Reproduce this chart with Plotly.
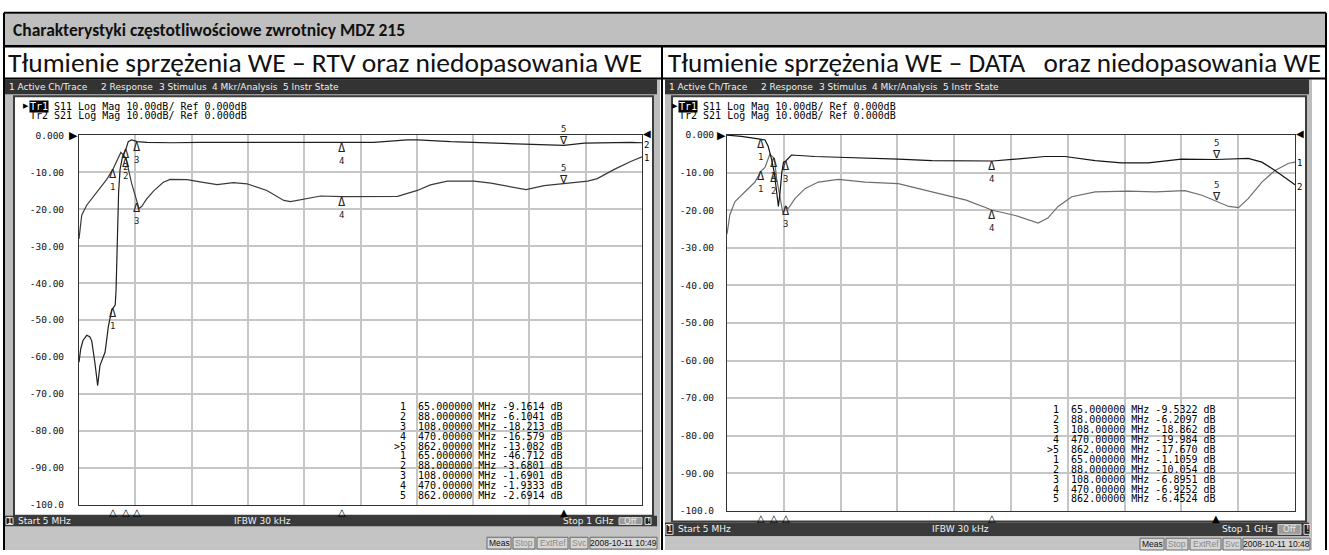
import plotly.graph_objects as go

W, H = 1329, 555

# ------------------------------------------------------------------ data
TITLE = "Charakterystyki częstotliwościowe zwrotnicy MDZ 215"
HEAD_RTV = "Tłumienie sprzężenia WE – RTV oraz niedopasowania WE"
HEAD_DATA = "Tłumienie sprzężenia WE – DATA&nbsp;&nbsp; oraz niedopasowania WE"

MENU_ITEMS = ["1 Active Ch/Trace", "2 Response", "3 Stimulus", "4 Mkr/Analysis", "5 Instr State"]
TRACE_HEAD = ["S11 Log Mag 10.00dB/ Ref 0.000dB", "Tr2 S21 Log Mag 10.00dB/ Ref 0.000dB"]
Y_TICKS = [0, -10, -20, -30, -40, -50, -60, -70, -80, -90, -100]
Y_TICK_TEXT = ["0.000", "-10.00", "-20.00", "-30.00", "-40.00", "-50.00",
               "-60.00", "-70.00", "-80.00", "-90.00", "-100.0"]
F_START, F_STOP = 5, 1000  # MHz

MKR_FREQ = [65, 88, 108, 470, 862]
MKR_LABEL = ["1", "2", "3", "4", ">5", "1", "2", "3", "4", "5"]
MKR_FREQ_TEXT = ["65.000000", "88.000000", "108.00000", "470.00000", "862.00000"]

RTV_S11_MKR = ["-9.1614", "-6.1041", "-18.213", "-16.579", "-13.082"]
RTV_S21_MKR = ["-46.712", "-3.6801", "-1.6901", "-1.9333", "-2.6914"]
DATA_S11_MKR = ["-9.5322", "-6.2097", "-18.862", "-19.984", "-17.670"]
DATA_S21_MKR = ["-1.1059", "-10.054", "-6.8951", "-6.9252", "-6.4524"]

# WE - RTV : S11 (mismatch)
RTV_S11_F = [5, 9.8, 18.6, 36, 54, 65, 74, 79, 88, 98, 108, 111, 116, 124, 137, 154, 166,
             196, 219, 249, 278, 302, 337, 367, 379, 408, 432, 470, 532, 568, 603, 626,
             656, 703, 733, 762, 795, 827, 862, 904, 921, 951, 981, 1000]
RTV_S11_DB = [-28.0, -21.6, -18.9, -15.4, -11.9, -9.16, -6.5, -4.6, -6.1, -13.0, -18.2, -19.8,
              -19.2, -17.3, -15.0, -12.7, -11.9, -12.0, -12.6, -13.3, -12.8, -13.1, -14.9,
              -17.6, -17.9, -17.0, -16.4, -16.6, -16.5, -16.5, -14.9, -13.4, -12.4, -12.4,
              -12.9, -13.8, -14.7, -13.6, -13.1, -12.4, -11.7, -9.2, -7.0, -5.8]
# WE - RTV : S21 (coupling)
RTV_S21_F = [5, 8, 12, 18.6, 24, 27.5, 33, 38, 42, 51, 54, 57, 63, 65, 69, 70.5, 71.5, 72,
             75, 77.6, 82, 88, 92, 98, 108, 125, 170, 219, 300, 380, 449, 470, 526, 585,
             603, 662, 738, 798, 839, 862, 898, 940, 981, 1000]
RTV_S21_DB = [-61.4, -57.8, -55.5, -54.1, -54.5, -55.6, -61.4, -67.7, -62.3, -58.7, -55.2,
              -51.6, -47.2, -46.7, -45.9, -41.9, -36.0, -30.4, -15.4, -9.2, -5.7, -3.7, -1.7,
              -1.2, -1.7, -1.9, -2.0, -1.9, -1.95, -1.9, -1.95, -1.93, -1.9, -1.2, -1.2, -1.7,
              -2.1, -2.3, -2.6, -2.7, -2.1, -1.9, -1.9, -2.0]

# WE - DATA : S11 (mismatch)
DATA_S11_F = [5, 10, 19, 36.5, 54, 65, 71.6, 80, 88, 92, 98, 103, 108, 112, 124, 142, 165,
              200, 247, 305, 364, 424, 470, 492, 510, 550, 567, 585, 609, 650, 708, 755, 807,
              837, 862, 884, 901, 918, 942, 965, 989, 1000]
DATA_S11_DB = [-26.4, -21.2, -17.7, -15.1, -12.5, -9.5, -8.6, -5.1, -6.2, -11.6, -17.0,
               -20.8, -18.9, -19.6, -16.9, -14.2, -12.5, -11.8, -12.5, -12.9, -15.1, -17.3,
               -20.0, -20.8, -21.4, -23.4, -22.1, -19.0, -16.4, -15.1, -14.9, -15.1, -14.8,
               -16.0, -17.7, -19.0, -19.3, -16.9, -12.5, -9.4, -7.5, -7.2]
# WE - DATA : S21 (coupling)
DATA_S21_F = [5, 30, 60, 65, 71.6, 77, 83, 88, 92, 95, 98, 101, 104, 108, 118, 159, 200, 247,
              305, 364, 470, 510, 562, 597, 650, 696, 743, 801, 862, 918, 942, 965, 983, 1000]
DATA_S21_DB = [0.0, -0.35, -1.0, -1.1, -1.3, -2.9, -6.4, -10.1, -15.1, -19.0, -15.1, -9.9,
               -7.2, -6.9, -5.3, -5.7, -5.9, -6.1, -6.4, -6.8, -6.9, -6.4, -5.7, -5.7, -6.8,
               -7.4, -7.4, -6.4, -6.5, -6.2, -7.2, -9.4, -11.4, -13.2]

DATES = ["2008-10-11 10:49", "2008-10-11 10:48"]

# ------------------------------------------------------------------ helpers
MONO = "DejaVu Sans Mono"
UI = "DejaVu Sans"
DOC = "Carlito, Lato"
shapes, ann = [], []


def rect(x0, y0, x1, y1, fill=None, line=None, lw=0, layer="below"):
    shapes.append(dict(type="rect", xref="paper", yref="paper",
                       x0=x0 / W, x1=x1 / W, y0=1 - y1 / H, y1=1 - y0 / H,
                       fillcolor=fill or "rgba(0,0,0,0)",
                       line=dict(color=line or "rgba(0,0,0,0)", width=lw), layer=layer))


def seg(x0, y0, x1, y1, color="#000", lw=1, layer="above"):
    shapes.append(dict(type="line", xref="paper", yref="paper",
                       x0=x0 / W, x1=x1 / W, y0=1 - y0 / H, y1=1 - y1 / H,
                       line=dict(color=color, width=lw), layer=layer))


def txt(x, y, s, size=10, color="#000", family=MONO, xa="left", ya="middle", bg=None):
    d = dict(xref="paper", yref="paper", x=x / W, y=1 - y / H, text=s, showarrow=False,
             xanchor=xa, yanchor=ya, font=dict(size=size, color=color, family=family),
             borderpad=0)
    if bg:
        d["bgcolor"] = bg
    ann.append(d)


# ------------------------------------------------------------------ page table
rect(5, 8, 1325, 41, fill="#bfbfbf")
txt(12, 24.5, "<b>" + TITLE + "</b>", size=17.5, color="#111", family=DOC)
txt(7, 58, HEAD_RTV, size=27.5, color="#111", family=DOC)
txt(667, 58, HEAD_DATA, size=27.2, color="#111", family=DOC)


# ------------------------------------------------------------------ analyzer screens
def screen(g, xa, ya, s11_f, s11_db, s11_c, s21_f, s21_db, s21_c, s11_m, s21_m, date):
    # frame
    rect(g["x0"], 75, g["x1"], 555, fill="#bdbdbd")
    rect(g["x0"], 75, g["mx1"], 90, fill="#333333")
    for item, mx in zip(MENU_ITEMS, g["menu_x"]):
        txt(mx, 82.5, item, size=9, color="#f0f0f0", family=UI)
    rect(g["px0"], 92, g["px1"], g["py1"], fill="#ffffff", line="#3c3c3c", lw=2)
    # bottom bar
    rect(g["x0"], g["bar0"], g["mx1"], g["bar1"], fill="#3a3a3a")
    bm = (g["bar0"] + g["bar1"]) / 2
    rect(g["x0"] + 1, g["bar0"] + 2, g["x0"] + 8, g["bar1"] - 2, fill="#202020", line="#e0e0e0", lw=1)
    txt(g["x0"] + 4.5, bm, "1", size=8.5, color="#fff", family=UI, xa="center")
    txt(g["x0"] + 12, bm, "Start 5 MHz", size=9, color="#f0f0f0", family=UI)
    txt(g["ifbw"], bm, "IFBW 30 kHz", size=9, color="#f0f0f0", family=UI, xa="center")
    txt(g["stop"], bm, "Stop 1 GHz", size=9, color="#f0f0f0", family=UI, xa="right")
    rect(g["stop"] + 4, g["bar0"] + 2, g["stop"] + 27, g["bar1"] - 2, fill="#9a9a9a", line="#d0d0d0", lw=1)
    txt(g["stop"] + 15.5, bm, "Off", size=8.5, color="#e8e8e8", family=UI, xa="center")
    rect(g["stop"] + 30, g["bar0"] + 2, g["stop"] + 36, g["bar1"] - 2, fill="#202020", line="#e0e0e0", lw=1)
    txt(g["stop"] + 33, bm, "!", size=8.5, color="#fff", family=UI, xa="center")
    # status bar
    rect(g["x0"], g["bar1"], g["x1"], 555, fill="#c4c4c4")
    sx = g["stat"]
    sy0, sy1 = g["stat_y"], g["stat_y"] + 12
    for lab, wdt, col in [("Meas", 24, "#111"), ("Stop", 22, "#8a8a8a"), ("ExtRef", 31, "#8a8a8a"),
                          ("Svc", 18, "#8a8a8a"), (date, 67, "#111")]:
        rect(sx, sy0, sx + wdt, sy1, fill="#d6d6d6", line="#6a6a6a", lw=1)
        txt(sx + wdt / 2, (sy0 + sy1) / 2, lab, size=8.5, color=col, family="Liberation Sans", xa="center")
        sx += wdt + 2
    # trace header
    hx = g["hx"]
    txt(hx - 7, g["hy"], "▶", size=7, color="#000", family=UI)
    txt(hx, g["hy"], "Tr1", size=10, color="#fff", family=MONO, bg="#000")
    txt(hx + 24, g["hy"], TRACE_HEAD[0], size=10, color="#000", family=MONO)
    txt(hx, g["hy"] + 9.5, TRACE_HEAD[1], size=10, color="#000", family=MONO)

    # traces
    fig_traces.append(go.Scatter(x=s11_f, y=s11_db, mode="lines", xaxis=xa, yaxis=ya,
                                 line=dict(color=s11_c, width=1.2), hoverinfo="skip", showlegend=False))
    fig_traces.append(go.Scatter(x=s21_f, y=s21_db, mode="lines", xaxis=xa, yaxis=ya,
                                 line=dict(color=s21_c, width=1.2), hoverinfo="skip", showlegend=False))

    xr, yr = xa, ya
    # reference arrows
    ann.append(dict(xref=xr + " domain", yref=yr, x=0, y=0, text="▶", showarrow=False,
                    xanchor="right", yanchor="middle", font=dict(size=11, color="#000", family=UI), xshift=1))
    ann.append(dict(xref=xr + " domain", yref=yr, x=1, y=0, text="◀", showarrow=False,
                    xanchor="left", yanchor="middle", font=dict(size=10, color="#000", family=UI),
                    xshift=-1, yshift=2))
    # trace end labels
    ann.append(dict(xref=xr, yref=yr, x=F_STOP, y=s11_db[-1], text="1", showarrow=False,
                    xanchor="left", yanchor="middle", yshift=-1,
                    font=dict(size=9, color="#000", family=MONO)))
    ann.append(dict(xref=xr, yref=yr, x=F_STOP, y=s21_db[-1], text="2", showarrow=False,
                    xanchor="left", yanchor="middle", yshift=-2,
                    font=dict(size=9, color="#000", family=MONO)))
    # markers on traces (triangle tip on the trace, number below / above)
    tri = "<span style='font-size:12px'>{}</span>"
    for vals in (s11_m, s21_m):
        for i, (f, v) in enumerate(zip(MKR_FREQ, vals)):
            v = float(v)
            n = str(i + 1)
            if i < 4:
                ann.append(dict(xref=xr, yref=yr, x=f, y=v, text=tri.format("Δ") + "<br>" + n,
                                showarrow=False, xanchor="center", yanchor="top", yshift=3,
                                borderpad=0, font=dict(size=9, color="#222", family=MONO)))
            else:
                ann.append(dict(xref=xr, yref=yr, x=f, y=v, text=n + "<br>" + tri.format("∇"),
                                showarrow=False, xanchor="center", yanchor="bottom", yshift=-3,
                                borderpad=0, font=dict(size=9, color="#222", family=MONO)))
    # marker position indicators under the grid
    for i, f in enumerate(MKR_FREQ):
        ann.append(dict(xref=xr, yref=yr, x=f, y=-100, text="▲" if i == 4 else "△", showarrow=False,
                        xanchor="center", yanchor="top", yshift=-1, borderpad=0,
                        font=dict(size=10, color="#000", family=UI)))
    # marker table
    vals = list(s11_m) + list(s21_m)
    freqs = MKR_FREQ_TEXT + MKR_FREQ_TEXT
    for r in range(10):
        line = f"{MKR_LABEL[r]:>2}  {freqs[r]} MHz {vals[r]} dB".replace(" ", "&nbsp;")
        txt(g["tx"], g["ty"] + r * g["tdy"], line, size=10, color="#000", family=MONO)


fig_traces = []
LEFT = dict(x0=5, x1=660, mx1=657, px0=14, px1=653, py1=520, bar0=520, bar1=531,
            menu_x=[8, 100, 158, 211, 282], ifbw=262, stop=615, stat=487, stat_y=542,
            hx=29, hy=102.5, tx=393, ty=409, tdy=10)
RIGHT = dict(x0=665, x1=1312, mx1=1309, px0=672, px1=1306, py1=526, bar0=527, bar1=541,
             menu_x=[668, 760, 818, 871, 942], ifbw=960, stop=1274, stat=1140, stat_y=543,
             hx=678, hy=102.5, tx=1046, ty=412, tdy=10.1)

screen(LEFT, "x", "y", RTV_S11_F, RTV_S11_DB, "#3a3a3a", RTV_S21_F, RTV_S21_DB, "#202020",
       RTV_S11_MKR, RTV_S21_MKR, DATES[0])
screen(RIGHT, "x2", "y2", DATA_S11_F, DATA_S11_DB, "#6e6e6e", DATA_S21_F, DATA_S21_DB, "#151515",
       DATA_S11_MKR, DATA_S21_MKR, DATES[1])

# page table lines (on top)
seg(4, 7, 1326, 7, lw=2)
seg(4, 41, 1326, 41, lw=2.5)
seg(4, 74, 1326, 74, lw=2)
seg(4, 7, 4, 555, lw=2)
seg(1326, 7, 1326, 555, lw=2)
seg(662, 41, 662, 555, lw=2)

fig = go.Figure(fig_traces)


def xax(dom):
    return dict(domain=[dom[0] / W, dom[1] / W], range=[F_START, F_STOP], tick0=F_START,
                dtick=(F_STOP - F_START) / 10, showticklabels=False, ticks="",
                showgrid=True, gridcolor="#c6c6c6", gridwidth=1.5, zeroline=False,
                showline=True, linecolor="#333", linewidth=1, mirror=True, fixedrange=True)


def yax(top, bot, stand, anchor):
    return dict(domain=[1 - bot / H, 1 - top / H], range=[-100, 0], tickvals=Y_TICKS,
                ticktext=Y_TICK_TEXT, ticks="", ticklabelstandoff=stand,
                tickfont=dict(family=MONO, size=9.5, color="#111"),
                showgrid=True, gridcolor="#c6c6c6", gridwidth=1.5, zeroline=False,
                showline=True, linecolor="#333", linewidth=1, mirror=True, anchor=anchor,
                fixedrange=True)


fig.update_layout(
    width=W, height=H, margin=dict(l=0, r=0, t=0, b=0),
    paper_bgcolor="#ffffff", plot_bgcolor="#ffffff",
    xaxis=xax((79, 642)), yaxis=yax(132, 509, 12, "x"),
    xaxis2=xax((727, 1295)) | dict(anchor="y2"), yaxis2=yax(131.7, 515, 10, "x2"),
    shapes=shapes, annotations=ann, showlegend=False,
)
fig.write_html("out.html", config={"displayModeBar": False},
               post_script="document.body.style.margin='0';document.body.style.overflow='hidden';")
